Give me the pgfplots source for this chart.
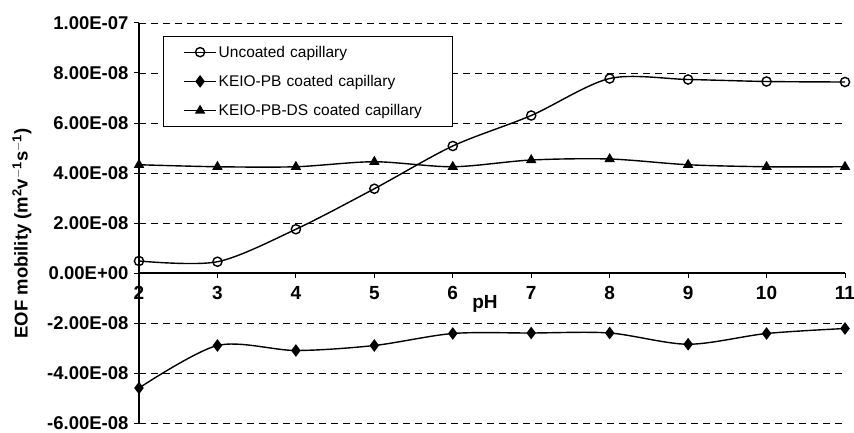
\documentclass[border=0pt]{standalone}
\usepackage{pgfplots}
\pgfplotsset{compat=1.18}
\usepackage{fontspec}
\setmainfont{Liberation Sans}
\begin{document}
\begin{tikzpicture}[x=1pt,y=1pt]
\begin{axis}[
  scale only axis,
  width=706pt, height=400pt,
  xmin=2, xmax=11,
  ymin=-6e-8, ymax=1e-7,
  axis x line*=middle,
  axis y line*=left,
  hide obscured x ticks=false,
  axis line style={line width=1.2pt},
  xtick={2,3,4,5,6,7,8,9,10,11},
  xticklabels={2,3,4,5,6,7,8,9,10,11},
  x tick label style={font=\fontsize{19}{19}\selectfont\bfseries, yshift=-5pt},
  ytick={-6e-8,-4e-8,-2e-8,0,2e-8,4e-8,6e-8,8e-8,1e-7},
  yticklabels={-6.00E-08,-4.00E-08,-2.00E-08,0.00E+00,2.00E-08,4.00E-08,6.00E-08,8.00E-08,1.00E-07},
  scaled y ticks=false,
  y tick label style={font=\fontsize{18.5}{18.5}\selectfont\bfseries, xshift=-2pt},
  tick align=outside,
  major tick length=5pt,
  tick style={line width=1pt, black},
  ymajorgrids,
  grid style={dashed, black, line width=0.8pt, dash pattern=on 7pt off 5pt},
  clip=false,
  legend style={at={(rel axis cs:0.034,0.968)}, anchor=north west, draw=black, line width=1pt,
    font=\fontsize{15.5}{15.5}\selectfont, row sep=12.5pt, inner xsep=20pt, inner ysep=7.5pt,
    text width=212pt},
  legend cell align=left,
  legend image code/.code={\draw[#1, line width=1.2pt] (0pt,0pt) -- (32pt,0pt); \draw[#1, only marks] plot coordinates {(16pt,0pt)};},
]
\addplot[black, line width=1.4pt, smooth, tension=0.5, mark=o, mark options={fill=white, line width=1.4pt, scale=2.3}] coordinates {
(2,4.8e-9) (3,4.5e-9) (4,1.75e-8) (5,3.37e-8) (6,5.08e-8) (7,6.3e-8) (8,7.78e-8) (9,7.74e-8) (10,7.66e-8) (11,7.64e-8)};
\addlegendentry{Uncoated capillary}
\addplot[black, line width=1.4pt, smooth, tension=0.5, mark=diamond*, mark options={scale=2.6}] coordinates {
(2,-4.6e-8) (3,-2.9e-8) (4,-3.1e-8) (5,-2.9e-8) (6,-2.42e-8) (7,-2.4e-8) (8,-2.4e-8) (9,-2.85e-8) (10,-2.42e-8) (11,-2.22e-8)};
\addlegendentry{KEIO-PB coated capillary}
\addplot[black, line width=1.4pt, smooth, tension=0.5, mark=triangle*, mark options={scale=2.3}] coordinates {
(2,4.33e-8) (3,4.25e-8) (4,4.25e-8) (5,4.45e-8) (6,4.25e-8) (7,4.52e-8) (8,4.56e-8) (9,4.33e-8) (10,4.25e-8) (11,4.25e-8)};
\addlegendentry{KEIO-PB-DS coated capillary}
\node[font=\fontsize{19}{19}\selectfont\bfseries] at (axis cs:6.41,-1.23e-8) {pH};
\node[font=\fontsize{18.5}{18.5}\selectfont\bfseries, rotate=90] at ([xshift=-117pt]rel axis cs:0,0.474) {EOF mobility (m$^{\mathbf{2}}$v$^{\mathbf{-1}}$s$^{\mathbf{-1}}$)};
\end{axis}
\pgfresetboundingbox
\path[use as bounding box] (-139pt,-9pt) rectangle (715pt,423pt);
\end{tikzpicture}
\end{document}
